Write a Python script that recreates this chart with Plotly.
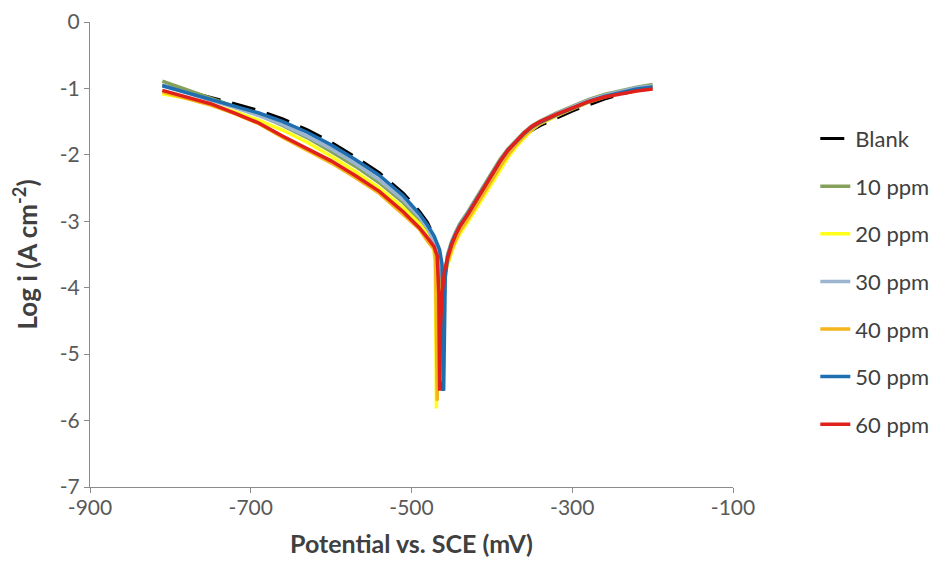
import plotly.graph_objects as go

# ---- data (potential in mV vs SCE, log current density) ----
cath_E = [-810, -780, -750, -720, -690, -660, -630, -600, -570, -540, -510, -490, -480, -472]
anod_E = [-455, -450, -445, -440, -430, -420, -410, -400, -390, -380, -370, -360, -350,
          -340, -320, -300, -280, -260, -240, -220, -200]

series_names = ["Blank", "10 ppm", "20 ppm", "30 ppm", "40 ppm", "50 ppm", "60 ppm"]

blank_cath = [-0.95, -1.04, -1.13, -1.23, -1.33, -1.46, -1.62, -1.81, -2.03, -2.27, -2.58, -2.85, -3.02, -3.22]
blank_dipE = [-468, -465, -463, -462, -461, -460, -459]
blank_dip = [-3.38, -3.55, -4.0, -4.8, -5.55, -4.6, -3.9]
blank_anod = [-3.52, -3.34, -3.20, -3.08, -2.90, -2.71, -2.52, -2.32, -2.13, -1.96, -1.83, -1.72, -1.63,
              -1.56, -1.45, -1.34, -1.25, -1.16, -1.09, -1.03, -0.99]

p10_cath = [-0.89, -1.02, -1.14, -1.27, -1.40, -1.56, -1.74, -1.95, -2.17, -2.42, -2.72, -2.98, -3.14, -3.32]
p10_dipE = [-468, -465, -463, -462, -461, -460]
p10_dip = [-3.45, -3.6, -4.1, -5.4, -4.5, -3.9]
p10_anod = [-3.50, -3.30, -3.16, -3.04, -2.86, -2.66, -2.46, -2.26, -2.07, -1.91, -1.78, -1.66, -1.56,
            -1.49, -1.37, -1.27, -1.17, -1.09, -1.03, -0.98, -0.94]

p20_cath = [-1.08, -1.15, -1.24, -1.35, -1.48, -1.63, -1.81, -2.02, -2.25, -2.50, -2.80, -3.04, -3.20, -3.36]
p20_dipE = [-471, -470, -469, -468, -466, -462]
p20_dip = [-3.6, -4.3, -5.82, -4.5, -4.05, -3.85]
p20_anod = [-3.66, -3.46, -3.31, -3.19, -3.01, -2.82, -2.62, -2.43, -2.23, -2.04, -1.88, -1.74, -1.62,
            -1.53, -1.41, -1.30, -1.20, -1.12, -1.06, -1.01, -0.97]

p30_cath = [-0.95, -1.06, -1.17, -1.29, -1.41, -1.55, -1.72, -1.91, -2.13, -2.38, -2.68, -2.94, -3.11, -3.30]
p30_dipE = [-468, -465, -463, -462, -461, -460]
p30_dip = [-3.42, -3.58, -4.1, -5.4, -4.5, -3.9]
p30_anod = [-3.52, -3.32, -3.18, -3.06, -2.88, -2.68, -2.48, -2.28, -2.09, -1.92, -1.79, -1.67, -1.57,
            -1.50, -1.38, -1.28, -1.18, -1.10, -1.04, -0.99, -0.96]

p40_cath = [-1.05, -1.15, -1.25, -1.38, -1.53, -1.74, -1.93, -2.12, -2.34, -2.58, -2.90, -3.12, -3.30, -3.42]
p40_dipE = [-470, -469, -468, -467, -465, -461]
p40_dip = [-3.6, -4.3, -5.7, -4.5, -4.05, -3.8]
p40_anod = [-3.62, -3.42, -3.27, -3.15, -2.97, -2.78, -2.58, -2.38, -2.18, -2.00, -1.85, -1.72, -1.61,
            -1.53, -1.41, -1.31, -1.21, -1.13, -1.07, -1.03, -1.00]

p50_cath = [-0.96, -1.06, -1.16, -1.26, -1.37, -1.50, -1.66, -1.85, -2.07, -2.31, -2.62, -2.89, -3.06, -3.22]
p50_dipE = [-468, -465, -462, -461, -460, -459, -458]
p50_dip = [-3.33, -3.43, -3.65, -4.2, -5.55, -4.4, -3.85]
p50_anod = [-3.53, -3.33, -3.19, -3.07, -2.89, -2.69, -2.49, -2.29, -2.10, -1.93, -1.80, -1.68, -1.58,
            -1.51, -1.40, -1.30, -1.20, -1.12, -1.06, -1.01, -0.98]

p60_cath = [-1.03, -1.13, -1.23, -1.37, -1.52, -1.72, -1.90, -2.09, -2.31, -2.55, -2.86, -3.10, -3.25, -3.38]
p60_dipE = [-468, -466, -465, -464, -462, -459]
p60_dip = [-3.52, -4.1, -5.55, -4.6, -4.1, -3.75]
p60_anod = [-3.55, -3.35, -3.20, -3.08, -2.90, -2.70, -2.50, -2.30, -2.10, -1.93, -1.79, -1.67, -1.57,
            -1.50, -1.39, -1.29, -1.20, -1.13, -1.08, -1.04, -1.01]

x_ticks = [-900, -700, -500, -300, -100]
y_ticks = [0, -1, -2, -3, -4, -5, -6, -7]

curves = [
    (blank_cath, blank_dipE, blank_dip, blank_anod),
    (p10_cath, p10_dipE, p10_dip, p10_anod),
    (p20_cath, p20_dipE, p20_dip, p20_anod),
    (p30_cath, p30_dipE, p30_dip, p30_anod),
    (p40_cath, p40_dipE, p40_dip, p40_anod),
    (p50_cath, p50_dipE, p50_dip, p50_anod),
    (p60_cath, p60_dipE, p60_dip, p60_anod),
]

colors = ["#000000", "#84A05A", "#FFFF1A", "#9DB4CF", "#F5B51C", "#1F6FB0", "#E0201B"]

fig = go.Figure()
for i, (name, (c, dE, d, a)) in enumerate(zip(series_names, curves)):
    x = cath_E + dE + anod_E
    y = c + d + a
    line = dict(color=colors[i], width=3.5)
    if name == "Blank":
        line = dict(color="#000000", width=3, dash="24px,12px")
    fig.add_trace(go.Scatter(x=x, y=y, mode="lines", name=name, line=line,
                             legendgroup=name))

font_family = "Lato, 'Open Sans', sans-serif"
# page body has an 8px default margin, so the figure is 8px smaller than the window
fig.update_layout(
    width=931, height=556,
    margin=dict(l=82, r=206, t=14, b=77, autoexpand=False),
    paper_bgcolor="white", plot_bgcolor="white",
    font=dict(family=font_family, size=21, color="#595959"),
    showlegend=True,
    legend=dict(x=1.128, xanchor="left", y=0.794, yanchor="top",
                font=dict(size=22, color="#404040"),
                tracegroupgap=16, traceorder="grouped",
                bgcolor="rgba(0,0,0,0)"),
)
fig.update_xaxes(range=[-900, -100], tickvals=x_ticks, ticktext=[str(v) for v in x_ticks],
                 showline=True, linecolor="#8C8C8C", linewidth=1.2,
                 ticks="outside", ticklen=5, tickcolor="#8C8C8C",
                 showgrid=False, zeroline=False, automargin=False,
                 ticklabelstandoff=-3,
                 tickfont=dict(size=21, color="#595959"),
                 title=dict(text="<b>Potential vs. SCE (mV)</b>", font=dict(size=25, color="#404040"),
                            standoff=17))
fig.update_yaxes(range=[-7, 0], tickvals=y_ticks, ticktext=[str(v) for v in y_ticks],
                 showline=True, linecolor="#8C8C8C", linewidth=1.2,
                 ticks="outside", ticklen=5, tickcolor="#8C8C8C",
                 showgrid=False, zeroline=False, automargin=False,
                 tickfont=dict(size=21, color="#595959"),
                 title=dict(text="<b>Log i (A cm<sup>-2</sup>)</b>", font=dict(size=26, color="#404040"),
                            standoff=18))

fig.write_html("out.html")
